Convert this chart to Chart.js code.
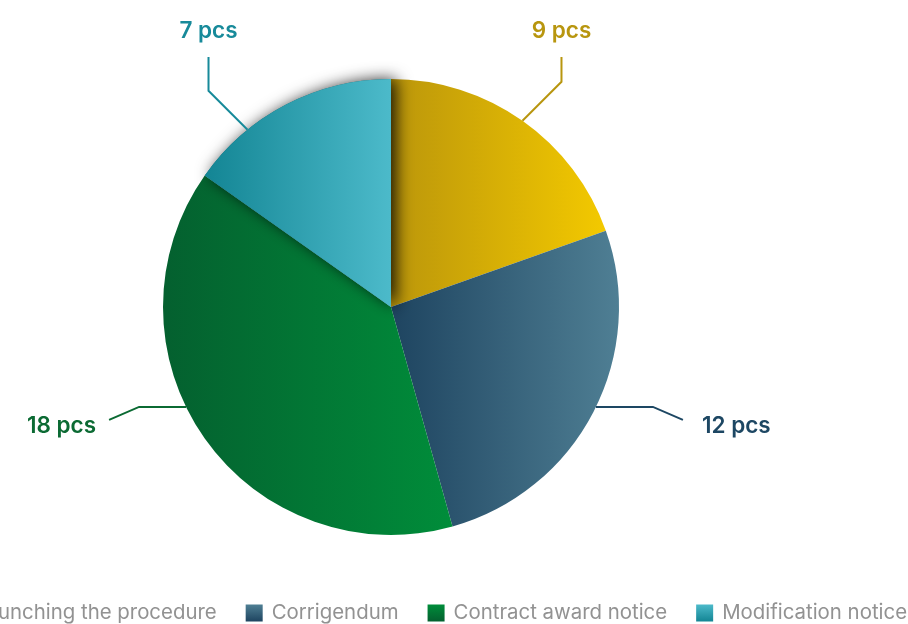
<!DOCTYPE html>
<html>
<head>
<meta charset="utf-8">
<script src="https://cdn.jsdelivr.net/npm/chart.js@4/dist/chart.umd.min.js"></script>
<style>
  html, body { margin: 0; padding: 0; background: #fff; overflow: hidden; }
  #wrap { position: relative; width: 908px; height: 624px; }
</style>
</head>
<body>
<div id="wrap"><canvas id="pieChart"></canvas></div>
<script>
const categorias = ['Launching the procedure', 'Corrigendum', 'Contract award notice', 'Modification notice']
const cantidades = [9, 12, 18, 7]
const unidad = 'pcs'

// colores por porcion: [oscuro, claro]
const coloresGrad = [
    ['#bb960b', '#f3c900'],
    ['#1e4460', '#4f7f94'],
    ['#04602f', '#008d3a'],
    ['#138594', '#4cbaca']
]
const coloresTexto = ['#b8960f', '#1d4763', '#0b6a33', '#178a9a']

// angulos de anclaje de las etiquetas (grados desde arriba, sentido horario)
const angulosEtiqueta = [null, 116, 244, 321]

const gradientesPorcion = {
    id: 'gradientesPorcion',
    beforeDatasetsDraw(chart) {
        const ctx = chart.ctx
        chart.getDatasetMeta(0).data.forEach((arc, i) => {
            let minX = arc.x, maxX = arc.x
            for (let a = arc.startAngle; a <= arc.endAngle; a += 0.01) {
                const px = arc.x + Math.cos(a) * arc.outerRadius
                minX = Math.min(minX, px); maxX = Math.max(maxX, px)
            }
            const g = ctx.createLinearGradient(minX, 0, maxX, 0)
            g.addColorStop(0, coloresGrad[i][0])
            g.addColorStop(1, coloresGrad[i][1])
            arc.options.backgroundColor = g
        })
    },
    afterDatasetsDraw(chart) {
        const ctx = chart.ctx
        const meta = chart.getDatasetMeta(0)
        // sombra de la ultima porcion sobre las vecinas
        const ultima = meta.data[meta.data.length - 1]
        ctx.save()
        ctx.shadowColor = 'rgba(0,0,0,0.85)'
        ctx.shadowBlur = 16
        ctx.shadowOffsetX = 5
        ctx.shadowOffsetY = 0
        ultima.draw(ctx)
        ctx.restore()

        // etiquetas con lineas guia
        ctx.save()
        ctx.font = '600 22.5px Inter'
        ctx.lineWidth = 2
        meta.data.forEach((arc, i) => {
            const mid = (arc.startAngle + arc.endAngle) / 2
            const ang = angulosEtiqueta[i] === null ? mid : (angulosEtiqueta[i] - 90) * Math.PI / 180
            const ax = arc.x + Math.cos(ang) * arc.outerRadius
            const ay = arc.y + Math.sin(ang) * arc.outerRadius
            const texto = cantidades[i] + ' ' + unidad
            const lado = ax > arc.x ? 1 : -1
            ctx.strokeStyle = coloresTexto[i]
            ctx.fillStyle = coloresTexto[i]
            ctx.beginPath()
            ctx.moveTo(ax, ay)
            if (ay < arc.y - arc.outerRadius * 0.5) {
                const ex = ax + lado * 39, ey = ay - 39
                const topY = arc.y - arc.outerRadius - 22
                ctx.lineTo(ex, ey)
                ctx.lineTo(ex, topY)
                ctx.stroke()
                ctx.textAlign = 'center'
                ctx.textBaseline = 'middle'
                ctx.fillText(texto, ex, topY - 26)
            } else {
                const ex = ax + (lado > 0 ? 57 : -47)
                const fx = ex + lado * 30, fy = ay + 13
                ctx.lineTo(ex, ay)
                ctx.lineTo(fx, fy)
                ctx.stroke()
                ctx.textAlign = lado > 0 ? 'left' : 'right'
                ctx.textBaseline = 'middle'
                ctx.fillText(texto, fx + (lado > 0 ? 19 : -13), ay + 19)
            }
        })
        ctx.restore()
    }
}

const leyendaAbajo = {
    id: 'leyendaAbajo',
    afterDraw(chart, args, opts) {
        const ctx = chart.ctx
        ctx.save()
        ctx.font = '400 20.4px Inter'
        const caja = 17, sep = 9, hueco = 29
        const anchos = categorias.map(c => caja + sep + ctx.measureText(c).width)
        const total = anchos.reduce((a, b) => a + b, 0) + hueco * (anchos.length - 1)
        let x = opts.centroX - total / 2
        const y = opts.y
        categorias.forEach((c, i) => {
            const g = ctx.createLinearGradient(0, y - caja / 2, 0, y + caja / 2)
            g.addColorStop(0, coloresGrad[i][1])
            g.addColorStop(1, coloresGrad[i][0])
            ctx.fillStyle = g
            ctx.fillRect(x, y - caja / 2, caja, caja)
            ctx.fillStyle = '#929292'
            ctx.textAlign = 'left'
            ctx.textBaseline = 'middle'
            ctx.fillText(c, x + caja + sep, y)
            x += anchos[i] + hueco
        })
        ctx.restore()
    }
}

const renderPie = () => {
    const data = {
        labels: categorias,
        datasets: [{
            data: cantidades,
            backgroundColor: coloresGrad.map(c => c[1]),
            borderWidth: 0
        }]
    }
    const options = {
        responsive: false,
        animation: false,
        layout: { padding: { left: 163, right: 289, top: 79, bottom: 89 } },
        plugins: {
            legend: { display: false },
            tooltip: { enabled: false },
            leyendaAbajo: { centroX: 428, y: 613 }
        }
    }
    const canvas = document.getElementById('pieChart')
    canvas.width = 908
    canvas.height = 624
    new Chart(canvas, { type: 'pie', data, options, plugins: [gradientesPorcion, leyendaAbajo] })
}

renderPie()
</script>
</body>
</html>
